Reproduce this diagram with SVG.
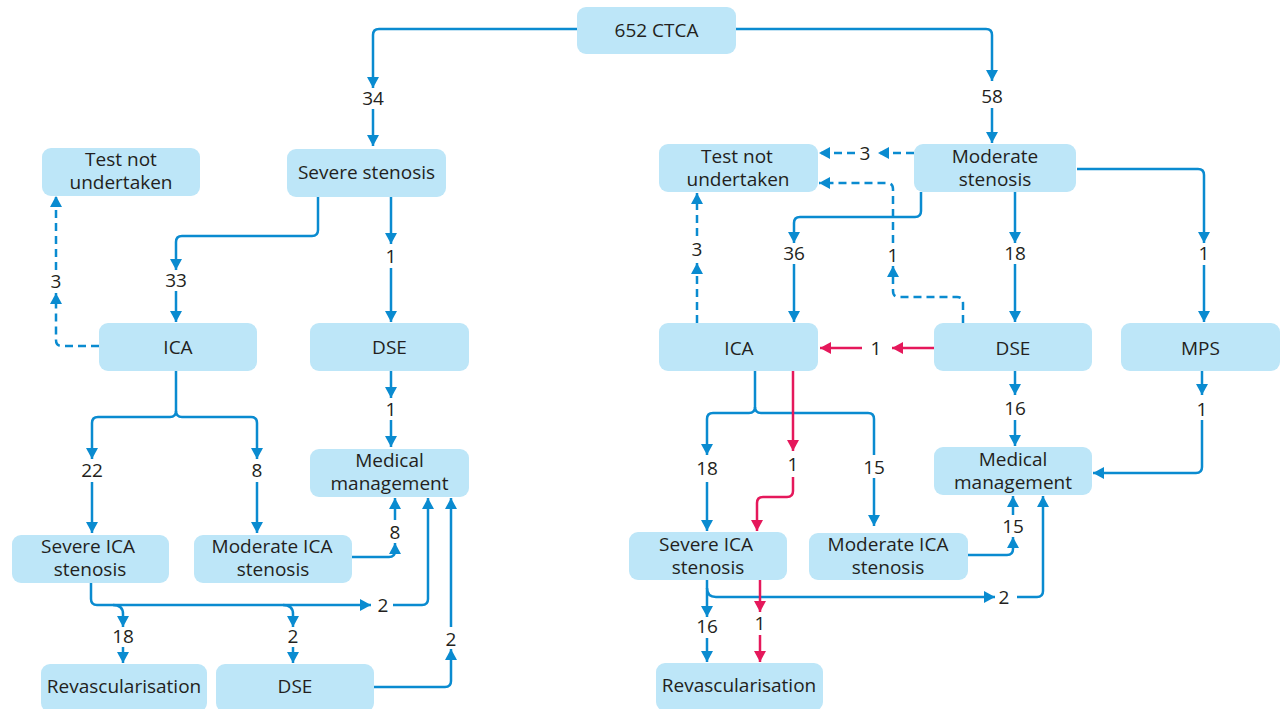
<svg xmlns="http://www.w3.org/2000/svg" width="1286" height="709" viewBox="0 0 1286 709">
<style>
.box{fill:#bde6f8;}
.t{font-family:"Open Sans","Liberation Sans",sans-serif;font-size:19px;fill:#231f20;text-anchor:middle;}
.c{fill:none;stroke:#0a8bd0;stroke-width:2.5;marker-end:url(#ab);}
.n{fill:none;stroke:#0a8bd0;stroke-width:2.5;}
.d{stroke-dasharray:8 5;}
.r{fill:none;stroke:#e5185b;stroke-width:2.5;marker-end:url(#ar);}
</style>
<defs>
<marker id="ab" markerUnits="userSpaceOnUse" markerWidth="11" markerHeight="12" viewBox="0 0 11 12" refX="11" refY="6" orient="auto"><path d="M0,0 L11,6 L0,12 z" fill="#0a8bd0"/></marker>
<marker id="ar" markerUnits="userSpaceOnUse" markerWidth="11" markerHeight="12" viewBox="0 0 11 12" refX="11" refY="6" orient="auto"><path d="M0,0 L11,6 L0,12 z" fill="#e5185b"/></marker>
</defs>
<rect width="1286" height="709" fill="#ffffff"/>
<g id="connectors">
<path class="c" d="M577,29 H379 Q373,29 373,35 V88"/>
<path class="c" d="M373,109 V146"/>
<path class="c" d="M736,29 H986 Q992,29 992,35 V81"/>
<path class="c" d="M992,108 V143"/>
<path class="c" d="M318,197 V230 Q318,236 312,236 H182 Q176,236 176,242 V270"/>
<path class="c" d="M176,291 V322"/>
<path class="c" d="M391,197 V244"/>
<path class="c" d="M391,268 V322"/>
<path class="c d" d="M99,346 H62 Q56,346 56,340 V293"/>
<path class="c d" d="M56,270 V196"/>
<path class="c" d="M176,371 V411 Q176,417 170,417 H98 Q92,417 92,423 V459"/>
<path class="c" d="M92,482 V533"/>
<path class="c" d="M176,411 Q176,417 182,417 H251 Q257,417 257,423 V459"/>
<path class="c" d="M257,482 V533"/>
<path class="c" d="M391,371 V398"/>
<path class="c" d="M391,420 V447"/>
<path class="c" d="M352,557 H389 Q395,557 395,551 V543"/>
<path class="c" d="M395,520 V498"/>
<path class="c" d="M91,583 V599 Q91,605 97,605 H371"/>
<path class="c" d="M393,605 H422 Q428,605 428,599 V498"/>
<path class="c" d="M113,605 Q123,605 123,614 V627"/>
<path class="c" d="M123,647 V663"/>
<path class="c" d="M283,605 Q293,605 293,614 V627"/>
<path class="c" d="M293,647 V663"/>
<path class="c" d="M374,687 H445 Q451,687 451,681 V649"/>
<path class="c" d="M451,627 V498"/>
<path class="c d" d="M914,153 H878"/>
<path class="c d" d="M855,153 H819"/>
<path class="c" d="M921,192 V211 Q921,217 915,217 H800 Q794,217 794,223 V243"/>
<path class="c" d="M794,264 V322"/>
<path class="c" d="M1015,192 V243"/>
<path class="c" d="M1015,264 V322"/>
<path class="c" d="M1077,169 H1198 Q1204,169 1204,175 V243"/>
<path class="c" d="M1204,265 V322"/>
<path class="c d" d="M697,323 V263"/>
<path class="c d" d="M697,236 V193"/>
<path class="c d" d="M963,323 V303 Q963,297 957,297 H899 Q893,297 893,291 V266"/>
<path class="c d" d="M893,243 V189 Q893,183 887,183 H819"/>
<path class="r" d="M934,348 H892"/>
<path class="r" d="M862,348 H820"/>
<path class="c" d="M755,371 V407 Q755,413 749,413 H713 Q707,413 707,419 V455"/>
<path class="c" d="M707,482 V531"/>
<path class="n" d="M755,407 Q755,413 761,413 H868 Q874,413 874,419 V455"/>
<path class="c" d="M874,478 V526"/>
<path class="r" d="M793,371 V451"/>
<path class="r" d="M793,477 V491 Q793,497 787,497 H763 Q757,497 757,503 V531"/>
<path class="c" d="M1015,371 V395"/>
<path class="c" d="M1015,420 V446"/>
<path class="c" d="M1202,371 V395"/>
<path class="c" d="M1202,420 V467 Q1202,473 1196,473 H1093"/>
<path class="c" d="M968,555 H1007 Q1013,555 1013,549 V537"/>
<path class="c" d="M1013,515 V496"/>
<path class="c" d="M707,580 V617"/>
<path class="c" d="M707,638 V662"/>
<path class="c" d="M707,588 Q707,597 716,597 H995"/>
<path class="c" d="M1017,597 H1037 Q1043,597 1043,591 V496"/>
<path class="r" d="M760,580 V612"/>
<path class="r" d="M760,635 V662"/>
</g>
<g id="labels">
<text class="t" x="373" y="105">34</text>
<text class="t" x="992" y="103">58</text>
<text class="t" x="176" y="287">33</text>
<text class="t" x="391" y="263">1</text>
<text class="t" x="56" y="288">3</text>
<text class="t" x="92" y="477">22</text>
<text class="t" x="257" y="477">8</text>
<text class="t" x="391" y="416">1</text>
<text class="t" x="395" y="539">8</text>
<text class="t" x="383" y="612">2</text>
<text class="t" x="123" y="643">18</text>
<text class="t" x="293" y="643">2</text>
<text class="t" x="451" y="646">2</text>
<text class="t" x="865" y="160">3</text>
<text class="t" x="794" y="260">36</text>
<text class="t" x="1015" y="260">18</text>
<text class="t" x="1204" y="260">1</text>
<text class="t" x="697" y="256">3</text>
<text class="t" x="893" y="262">1</text>
<text class="t" x="876" y="355">1</text>
<text class="t" x="707" y="475">18</text>
<text class="t" x="874" y="474">15</text>
<text class="t" x="793" y="471">1</text>
<text class="t" x="1015" y="415">16</text>
<text class="t" x="1202" y="416">1</text>
<text class="t" x="1013" y="533">15</text>
<text class="t" x="707" y="633">16</text>
<text class="t" x="1004" y="604">2</text>
<text class="t" x="760" y="630">1</text>
</g>
<g id="n-ctca"><rect class="box" x="577" y="7" width="159" height="47" rx="9"/><text class="t" x="656.5" y="37">652 CTCA</text></g>
<g id="n-severe"><rect class="box" x="287" y="149" width="159" height="48" rx="9"/><text class="t" x="366.5" y="179">Severe stenosis</text></g>
<g id="n-tnu-l"><rect class="box" x="42" y="148" width="158" height="48" rx="9"/><text class="t" x="121" y="166"><tspan x="121">Test not</tspan><tspan x="121" dy="23">undertaken</tspan></text></g>
<g id="n-ica-l"><rect class="box" x="99" y="323" width="158" height="48" rx="9"/><text class="t" x="178" y="354">ICA</text></g>
<g id="n-dse-l"><rect class="box" x="310" y="323" width="159" height="48" rx="9"/><text class="t" x="389.5" y="354">DSE</text></g>
<g id="n-mm-l"><rect class="box" x="310" y="449" width="159" height="48" rx="9"/><text class="t" x="389.5" y="467"><tspan x="389.5">Medical</tspan><tspan x="389.5" dy="23">management</tspan></text></g>
<g id="n-sica-l"><rect class="box" x="12" y="535" width="157" height="48" rx="9"/><text class="t" x="88" y="553"><tspan x="88">Severe ICA</tspan><tspan x="90" dy="23">stenosis</tspan></text></g>
<g id="n-mica-l"><rect class="box" x="194" y="535" width="158" height="48" rx="9"/><text class="t" x="272" y="553"><tspan x="272">Moderate ICA</tspan><tspan x="273" dy="23">stenosis</tspan></text></g>
<g id="n-rev-l"><rect class="box" x="41" y="664" width="166" height="48" rx="9"/><text class="t" x="124" y="693">Revascularisation</text></g>
<g id="n-dse-lb"><rect class="box" x="216" y="664" width="158" height="48" rx="9"/><text class="t" x="295" y="693">DSE</text></g>
<g id="n-mod"><rect class="box" x="914" y="144" width="162" height="48" rx="9"/><text class="t" x="995" y="163"><tspan x="995">Moderate</tspan><tspan x="995" dy="23">stenosis</tspan></text></g>
<g id="n-tnu-r"><rect class="box" x="659" y="144" width="159" height="48" rx="9"/><text class="t" x="737" y="163"><tspan x="737">Test not</tspan><tspan x="738" dy="23">undertaken</tspan></text></g>
<g id="n-ica-r"><rect class="box" x="659" y="323" width="159" height="48" rx="9"/><text class="t" x="739" y="355">ICA</text></g>
<g id="n-dse-r"><rect class="box" x="934" y="323" width="158" height="48" rx="9"/><text class="t" x="1013" y="355">DSE</text></g>
<g id="n-mps"><rect class="box" x="1121" y="323" width="159" height="48" rx="9"/><text class="t" x="1200.5" y="355">MPS</text></g>
<g id="n-mm-r"><rect class="box" x="934" y="447" width="158" height="48" rx="9"/><text class="t" x="1013" y="466"><tspan x="1013">Medical</tspan><tspan x="1013" dy="23">management</tspan></text></g>
<g id="n-sica-r"><rect class="box" x="629" y="532" width="158" height="48" rx="9"/><text class="t" x="706" y="551"><tspan x="706">Severe ICA</tspan><tspan x="708" dy="23">stenosis</tspan></text></g>
<g id="n-mica-r"><rect class="box" x="809" y="533" width="159" height="47" rx="9"/><text class="t" x="888" y="551"><tspan x="888">Moderate ICA</tspan><tspan x="888" dy="23">stenosis</tspan></text></g>
<g id="n-rev-r"><rect class="box" x="656" y="663" width="167" height="48" rx="9"/><text class="t" x="739" y="692">Revascularisation</text></g>
</svg>
